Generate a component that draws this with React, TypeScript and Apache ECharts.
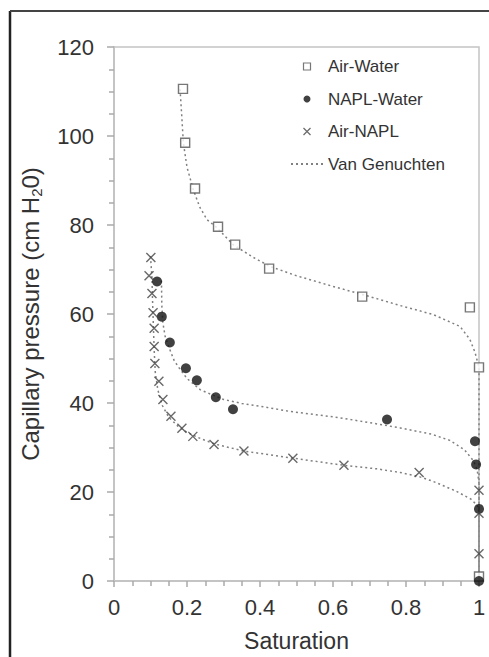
import React, { useEffect, useRef } from 'react';
import * as echarts from 'echarts';

const xTicks = [0, 0.2, 0.4, 0.6, 0.8, 1];
const yTicks = [0, 20, 40, 60, 80, 100, 120];

const airWater = [[0.189, 110.6], [0.195, 98.5], [0.222, 88.2], [0.285, 79.6], [0.332, 75.6], [0.425, 70.2], [0.68, 63.9], [0.975, 61.5], [1.0, 48.0], [1.0, 1.0]];
const naplWater = [[0.118, 67.3], [0.131, 59.4], [0.153, 53.6], [0.197, 47.8], [0.227, 45.1], [0.279, 41.3], [0.326, 38.6], [0.748, 36.3], [0.989, 31.4], [0.992, 26.2], [1.0, 16.2], [1.0, 0]];
const airNapl = [[0.101, 72.7], [0.096, 68.6], [0.104, 64.6], [0.107, 60.3], [0.11, 56.8], [0.11, 52.7], [0.112, 48.9], [0.123, 44.9], [0.134, 40.8], [0.156, 37.0], [0.186, 34.3], [0.216, 32.5], [0.274, 30.7], [0.356, 29.2], [0.49, 27.6], [0.63, 26.0], [0.836, 24.4], [1.0, 20.4], [1.0, 15.2], [1.0, 6.1]];

const vgAirWater = [[0.181, 110.5], [0.186, 104], [0.19, 98.5], [0.2, 93], [0.217, 88], [0.235, 84], [0.255, 81.2], [0.282, 79.4], [0.326, 75.6], [0.38, 72.8], [0.427, 70.7], [0.5, 68.6], [0.6, 66.2], [0.68, 64.4], [0.784, 61.9], [0.874, 59.9], [0.948, 57.2], [0.975, 54.3], [0.989, 51.4], [1.0, 48], [1.0, 0]];
const vgNaplWater = [[0.13, 67.5], [0.131, 62], [0.134, 58], [0.14, 55], [0.153, 52], [0.165, 49.5], [0.181, 47.6], [0.2, 45.5], [0.236, 43], [0.27, 41.8], [0.3, 40.8], [0.35, 39.9], [0.42, 39], [0.482, 38.1], [0.6, 36.9], [0.7, 35.6], [0.784, 34.4], [0.87, 33], [0.92, 31.6], [0.96, 29.5], [0.985, 27], [0.995, 25], [1.0, 22], [1.0, 0]];
const vgAirNapl = [[0.1, 73], [0.104, 68], [0.106, 62], [0.108, 57], [0.11, 52], [0.113, 47], [0.12, 43], [0.132, 39.5], [0.15, 36.8], [0.175, 34.8], [0.2, 33.4], [0.24, 31.9], [0.28, 30.7], [0.356, 29.2], [0.49, 27.6], [0.63, 26.0], [0.72, 25.2], [0.784, 24.4], [0.838, 23.4], [0.874, 22.4], [0.937, 20.2], [0.978, 18.4], [0.995, 17], [1.0, 15.5], [1.0, 0]];

const legendNames = ['Air-Water', 'NAPL-Water', 'Air-NAPL', 'Van Genuchten'];

const FONT = '"Liberation Sans", Arial, sans-serif';
const CROSS = 'path://M0,0L10,10M10,0L0,10';
const SQUARE = 'path://M0,0L10,0L10,10L0,10Z';

export default function App() {
  const ref = useRef<HTMLDivElement>(null);
  useEffect(() => {
    if (!ref.current) return;
    const chart = echarts.init(ref.current, null, { renderer: 'svg' });
    const curveStyle = { color: '#808080', width: 1.5, type: [2, 3] as any };
    const curve = (data: number[][]) => ({
      name: legendNames[3],
      type: 'line',
      data,
      symbol: 'none',
      smooth: false,
      lineStyle: curveStyle,
      itemStyle: { color: 'rgba(0,0,0,0)', borderWidth: 0 },
      z: 1,
    });
    chart.setOption({
      animation: false,
      backgroundColor: '#fff',
      textStyle: { fontFamily: FONT },
      grid: { left: 114, right: 10, top: 47, bottom: 75, show: true, borderColor: '#c4c4c4', borderWidth: 1.5 },
      legend: {
        data: [
          { name: legendNames[0], icon: SQUARE, itemStyle: { borderWidth: 1.2 } },
          { name: legendNames[1] },
          { name: legendNames[2], itemStyle: { borderWidth: 1.2 } },
          { name: legendNames[3], itemStyle: { color: 'rgba(0,0,0,0)', borderWidth: 0, opacity: 0 } },
        ],
        orient: 'vertical',
        left: 290,
        top: 58,
        padding: 0,
        itemGap: 15.5,
        itemWidth: 32,
        itemHeight: 7,
        symbolKeepAspect: true,
        textStyle: { fontSize: 17, color: '#333', fontFamily: FONT },
        selectedMode: false,
      },
      xAxis: {
        type: 'value',
        min: xTicks[0],
        max: xTicks[xTicks.length - 1],
        interval: 0.2,
        name: 'Saturation',
        nameLocation: 'middle',
        nameGap: 48,
        nameTextStyle: { fontSize: 23, color: '#333', fontFamily: FONT },
        axisLine: { show: true, lineStyle: { color: '#c4c4c4', width: 2 } },
        axisTick: { show: true, inside: false, length: 6, lineStyle: { color: '#aaa', width: 1.5 } },
        minorTick: { show: true, splitNumber: 4, length: 5, lineStyle: { color: '#aaa', width: 1.5 } },
        splitLine: { show: false },
        axisLabel: { fontSize: 22, color: '#333', margin: 15, fontFamily: FONT, formatter: (v: number) => String(Math.round(v * 10) / 10) },
      },
      yAxis: {
        type: 'value',
        min: yTicks[0],
        max: yTicks[yTicks.length - 1],
        interval: 20,
        name: '{a|Capillary pressure (cm H}{s|2}{a|0)}',
        nameLocation: 'middle',
        nameGap: 70,
        nameTextStyle: {
          color: '#333',
          fontFamily: FONT,
          rich: {
            a: { fontSize: 24, color: '#333', fontFamily: FONT, lineHeight: 27 },
            s: { fontSize: 15, color: '#333', fontFamily: FONT, verticalAlign: 'bottom', lineHeight: 15 },
          },
        },
        axisLine: { show: true, lineStyle: { color: '#c4c4c4', width: 2 } },
        axisTick: { show: true, inside: false, length: 7, lineStyle: { color: '#aaa', width: 1.5 } },
        minorTick: { show: true, splitNumber: 4, length: 5, lineStyle: { color: '#aaa', width: 1.5 } },
        splitLine: { show: false },
        axisLabel: { fontSize: 22, color: '#333', margin: 20, fontFamily: FONT },
      },
      series: [
        curve(vgAirWater),
        curve(vgNaplWater),
        curve(vgAirNapl),
        {
          name: legendNames[0],
          type: 'scatter',
          data: airWater,
          symbol: 'rect',
          symbolSize: 9,
          clip: false,
          itemStyle: { color: '#fff', borderColor: '#555', borderWidth: 1.4 },
          z: 3,
        },
        {
          name: legendNames[1],
          type: 'scatter',
          data: naplWater,
          symbol: 'circle',
          symbolSize: 10,
          clip: false,
          itemStyle: { color: '#111', borderWidth: 0 },
          z: 3,
        },
        {
          name: legendNames[2],
          type: 'scatter',
          data: airNapl,
          symbol: CROSS,
          symbolSize: 9,
          clip: false,
          itemStyle: { color: 'rgba(0,0,0,0)', borderColor: '#444', borderWidth: 1.4 },
          z: 3,
        },
      ],
      graphic: [
        { type: 'line', shape: { x1: 10, y1: 11, x2: 10, y2: 657 }, style: { stroke: '#222', lineWidth: 2.5 }, z: 10 },
        { type: 'line', shape: { x1: 10, y1: 11, x2: 489, y2: 11 }, style: { stroke: '#444', lineWidth: 2 }, z: 10 },
      ],
    });
    return () => chart.dispose();
  }, []);
  return <div ref={ref} style={{ position: 'fixed', left: 0, top: 0, width: 489, height: 657, background: '#fff' }} />;
}
